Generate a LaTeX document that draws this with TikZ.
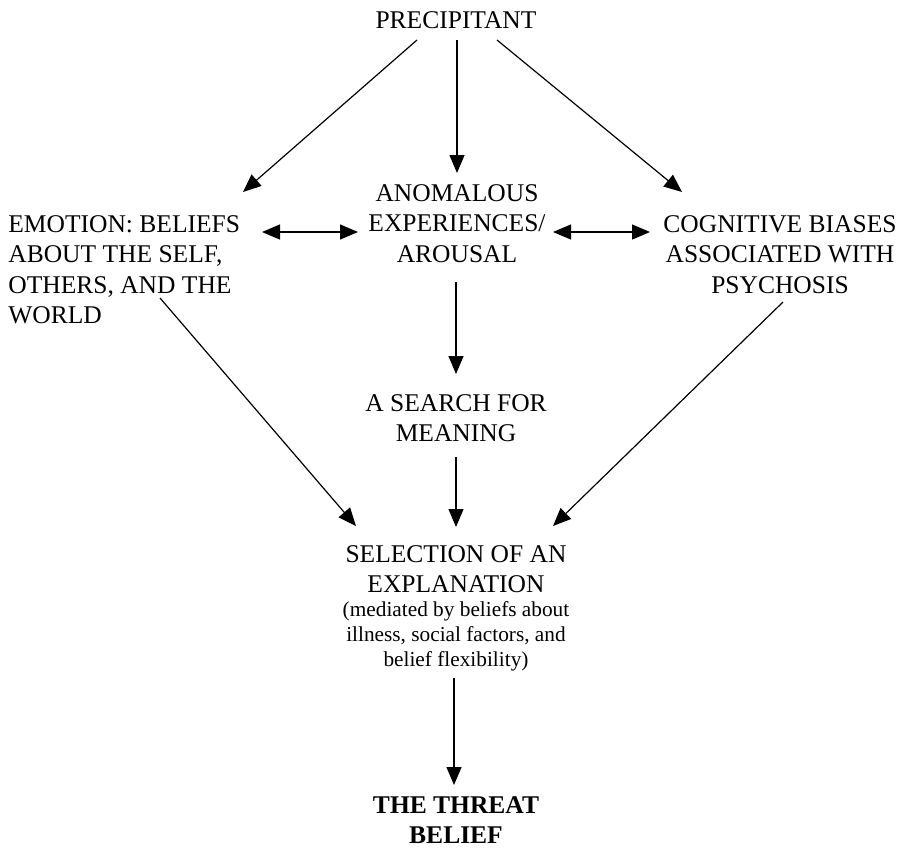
\documentclass[tikz,border=0pt]{standalone}
\usepackage{fontspec}
\setmainfont{Liberation Serif}
\usepackage{tikz}
\usetikzlibrary{arrows.meta}

\tikzset{
  box/.style={inner sep=0pt, align=center, font=\fontsize{12.75}{15.2}\selectfont},
  note/.style={inner sep=0pt, align=center, font=\fontsize{10.65}{12.6}\selectfont},
  arr/.style={-{Triangle[length=9pt,width=7.5pt]}, line width=0.6pt},
  darr/.style={{Triangle[length=9pt,width=7.5pt]}-{Triangle[length=9pt,width=7.5pt]}, line width=0.6pt}
}

\begin{document}
\begin{tikzpicture}[x=0.5pt,y=-0.5pt]
   \useasboundingbox (0,0) rectangle (905,848);
   \draw (456,11) node[box,anchor=north] (prec) {PRECIPITANT};
     \draw (457,184) node[box,anchor=north] (anom) {ANOMALOUS\\EXPERIENCES/\\AROUSAL};
   \draw (8,215) node[box,anchor=north west,align=left] (emo) {EMOTION: BELIEFS\\ABOUT THE SELF,\\OTHERS, AND THE\\WORLD};
   \draw (780,215) node[box,anchor=north] (cog) {COGNITIVE BIASES\\ASSOCIATED WITH\\PSYCHOSIS};
      \draw (456,394) node[box,anchor=north] (search) {A SEARCH FOR\\MEANING};
      \draw (456,545) node[box,anchor=north] (sel) {SELECTION OF AN\\EXPLANATION};
      \draw (456,601) node[note,anchor=north] (selnote) {(mediated by beliefs about\\illness, social factors, and\\belief flexibility)};
   \draw (456,796) node[box,anchor=north,font=\fontsize{12.75}{15}\selectfont\bfseries] (threat) {THE THREAT\\BELIEF};

     \path[arr] ([shift={(-39,29)}]prec.north) edge ([shift={(235,-23)}]emo.north west);
     \path[arr] ([shift={(1,29)}]prec.north) edge ([shift={(0,-11)}]anom.north);
     \path[arr] ([shift={(41,29)}]prec.north) edge ([shift={(-98,-23)}]cog.north);
     \path[darr] ([shift={(254,17)}]emo.north west) edge ([shift={(-99,48)}]anom.north);
     \path[darr] ([shift={(96,48)}]anom.north) edge ([shift={(-130,17)}]cog.north);
     \path[arr] ([shift={(-1,98)}]anom.north) edge ([shift={(0,-20)}]search.north);
     \path[arr] ([shift={(152,83)}]emo.north west) edge ([shift={(-100,-19)}]sel.north);
     \path[arr] ([shift={(0,63)}]search.north) edge ([shift={(0,-18)}]sel.north);
     \path[arr] ([shift={(3,87)}]cog.north) edge ([shift={(97,-19)}]sel.north);
     \path[arr] ([shift={(-2,77)}]selnote.north) edge ([shift={(-2,-11)}]threat.north);

\end{tikzpicture}
\end{document}
